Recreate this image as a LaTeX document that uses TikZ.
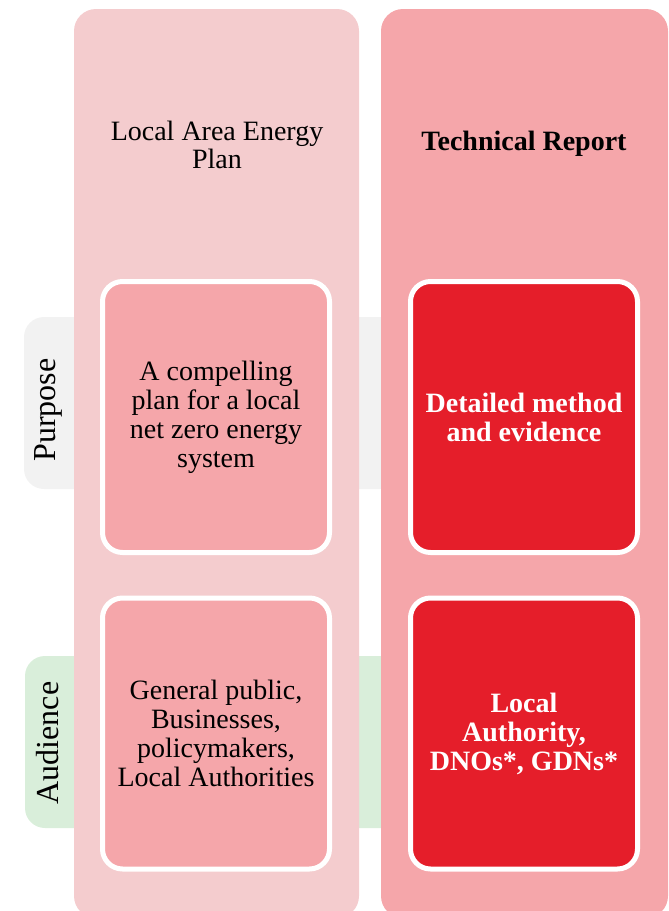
\documentclass[tikz,border=0pt]{standalone}
\usepackage{fontspec}
\setmainfont{Liberation Serif}
\usepackage{tikz}
\definecolor{rosaclaro}{RGB}{244,204,206}
\definecolor{rosa}{RGB}{245,166,170}
\definecolor{rojo}{RGB}{229,30,42}
\definecolor{grisito}{RGB}{242,242,242}
\definecolor{verdecito}{RGB}{217,238,218}
\tikzset{
  columna/.style={rounded corners=22pt, minimum width=#1, minimum height=909pt, inner sep=0pt},
  banda/.style={fill=#1, rounded corners=20pt, minimum width=376pt, minimum height=172pt, inner sep=0pt},
  caja/.style={draw=white, line width=5pt, rounded corners=20pt, minimum width=227pt, minimum height=271pt, align=center, inner sep=0pt, font=\fontsize{28}{29}\selectfont},
  rotulo/.style={rotate=90, font=\fontsize{32}{36}\selectfont}
}
\begin{document}
\begin{tikzpicture}[x=1pt,y=-1pt]
	\useasboundingbox (0,0) rectangle (669,911);
	\clip (0,0) rectangle (669,911);

		% bandas de fondo
		\node[banda=grisito] (bandaPurpose) at (212,403) {};
		\node[banda=verdecito] (bandaAudience) at (213,742) {};

		% columnas
		\node[columna=285pt, fill=rosaclaro] (colLAEP) at (216.5,463.5) {};
		\node[columna=287pt, fill=rosa] (colTR) at (524.5,463.5) {};

		\node[align=center, font=\fontsize{28}{28}\selectfont] (tituloLAEP) at (217,145) {Local Area Energy\\Plan};
		\node[font=\fontsize{28}{28}\selectfont\bfseries] (tituloTR) at (524,144) {Technical Report};

		% cajas
		\node[caja, fill=rosa] (purposeLAEP) at (216,417) {A compelling\\plan for a local\\net zero energy\\system};
		\node[caja, fill=rojo, text=white, font=\fontsize{28}{29}\selectfont\bfseries] (purposeTR) at (524,417) {Detailed method\\and evidence};
		\node[caja, fill=rosa] (audienceLAEP) at (216,733.5) {General public,\\Businesses,\\policymakers,\\Local Authorities};
		\node[caja, fill=rojo, text=white, font=\fontsize{28}{29}\selectfont\bfseries] (audienceTR) at (524,733.5) {Local\\Authority,\\DNOs*, GDNs*};

		% rotulos
		\node[rotulo] (rotPurpose) at (48,410) {Purpose};
		\node[rotulo] (rotAudience) at (48,743) {Audience};

	\end{tikzpicture}
\end{document}
